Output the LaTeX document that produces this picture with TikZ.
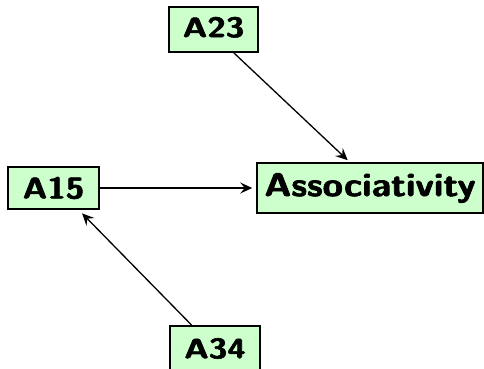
\documentclass[tikz,border=0pt]{standalone}
\usepackage{fontspec}
\setsansfont{Latin Modern Sans}[BoldFeatures={FakeBold=2}]
\usetikzlibrary{arrows.meta}
\definecolor{boxfill}{RGB}{204,255,204}
\tikzset{
  concept/.style={draw=black, line width=1.5pt, fill=boxfill, rectangle,
    inner sep=0pt, font=\sffamily\bfseries},
  link/.style={line width=1.3pt, -{Stealth[length=12pt,width=11pt,inset=4.5pt]}}
}
% #1 size, #2 horizontal stretch, #3 lift, #4 text
\newcommand{\lbl}[4]{\raisebox{#3}{\scalebox{#2}[1]{\fontsize{#1}{#1}\selectfont #4}}}
\begin{document}
\begin{tikzpicture}[x=1pt,y=-1pt]
  \useasboundingbox (0,0) rectangle (484,369);
  \clip (0,0) rectangle (484,369);
  \node[concept, minimum width=89pt, minimum height=45pt] (a23) at (213.5,29.5) {\lbl{28}{1.2}{5pt}{A23}};
  \node[concept, minimum width=91pt, minimum height=42pt] (a15) at (53.5,188) {\lbl{30}{1.12}{-1pt}{A15}};
  \node[concept, minimum width=226pt, minimum height=50pt] (assoc) at (370,188) {\lbl{33}{1.12}{0pt}{Associativity}};
  \node[concept, minimum width=90pt, minimum height=45pt] (a34) at (215,348.5) {\lbl{28}{1.2}{0pt}{A34}};
  \draw[link, shorten >=3pt] (a23.-49) -- (assoc.128);
  \draw[link, shorten >=4pt] (a15.east) -- (assoc.west);
  \draw[link, shorten >=5pt] (a34.135) -- (a15.-41);
\end{tikzpicture}
\end{document}
